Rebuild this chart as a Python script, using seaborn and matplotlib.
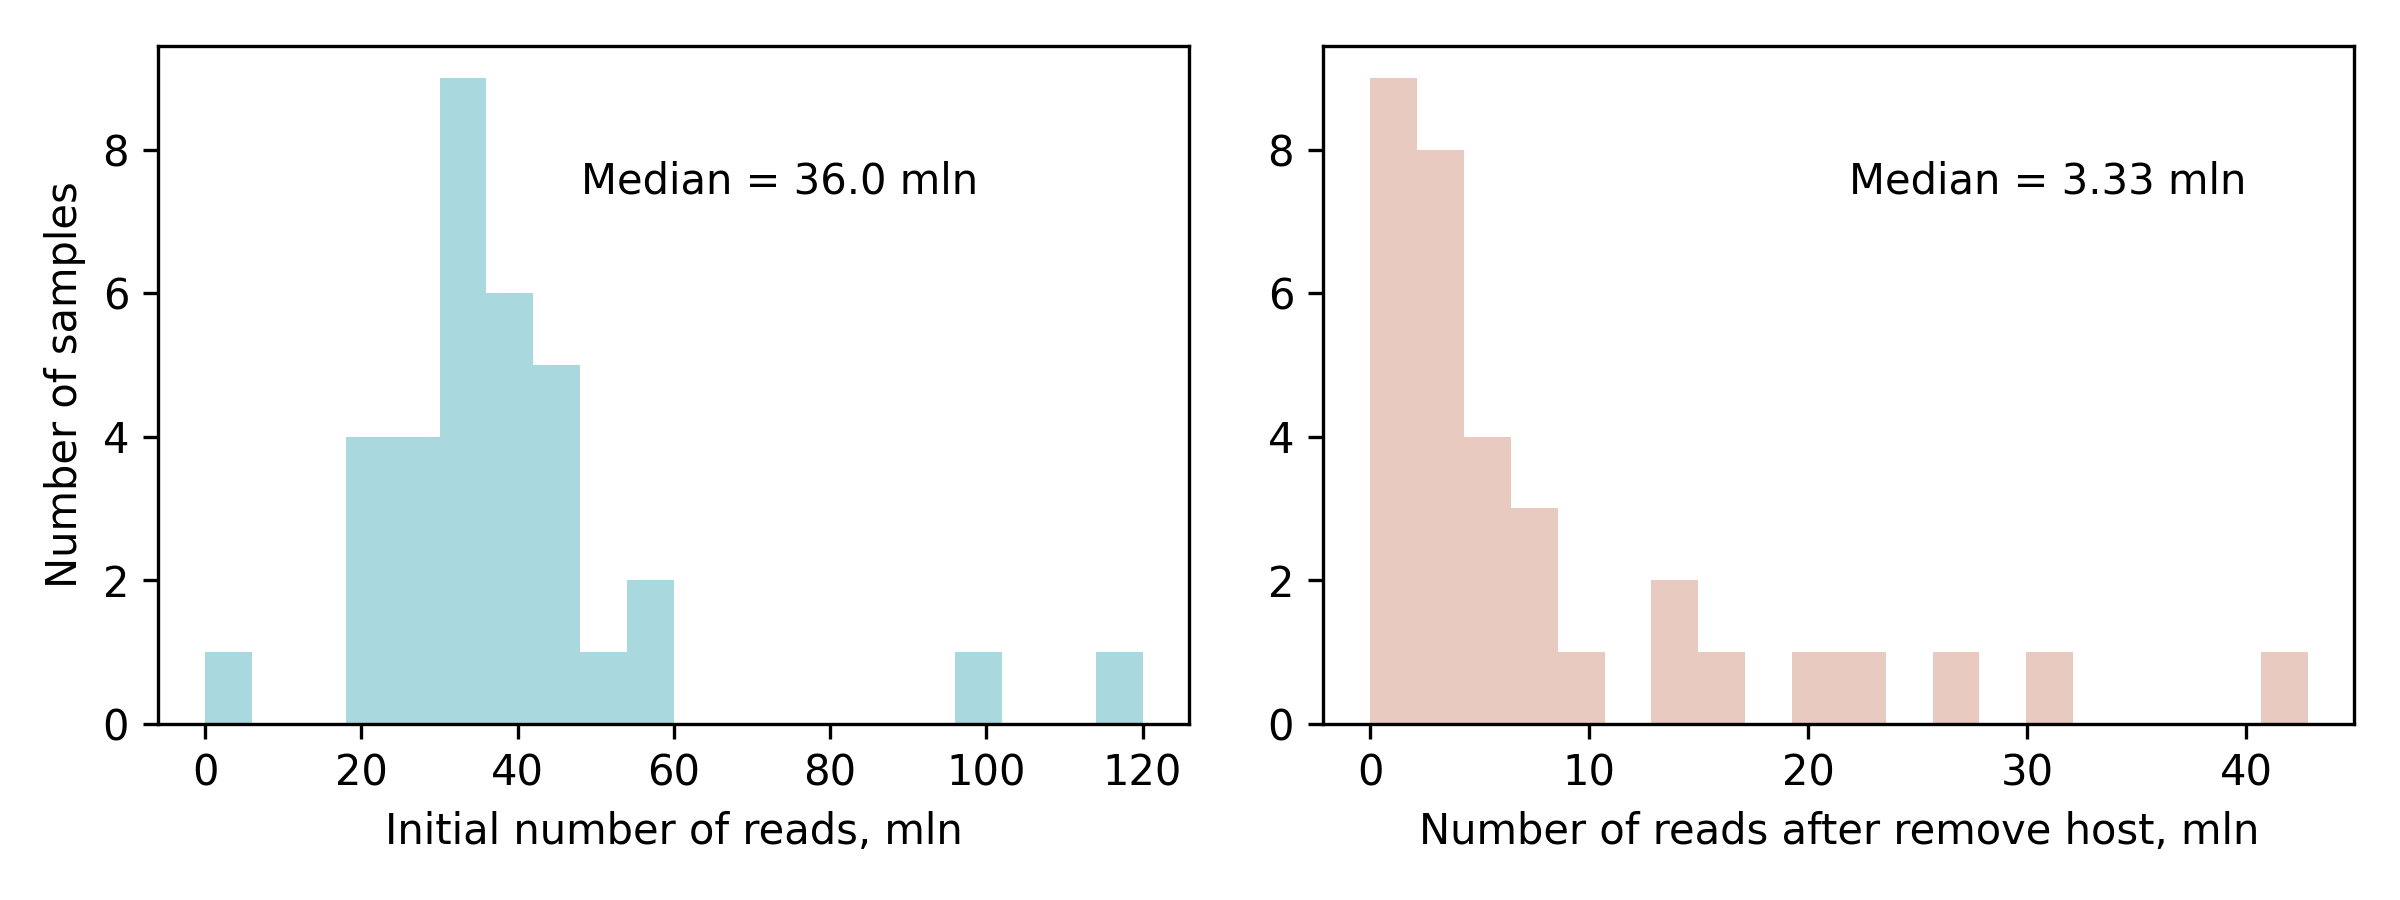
import matplotlib
matplotlib.use('Agg')
import matplotlib.pyplot as plt
import seaborn as sns
import numpy as np
import pandas as pd

sns.set_style('ticks')
plt.rcParams['font.family'] = ['DejaVu Sans']
plt.rcParams.update({'text.color': 'black', 'axes.labelcolor': 'black',
                     'xtick.color': 'black', 'ytick.color': 'black',
                     'axes.edgecolor': 'black'})

# histogram bins (20 bins each)
initial_range = (0, 120)
initial_counts = [1, 0, 0, 4, 4, 9, 6, 5, 1, 2,
                  0, 0, 0, 0, 0, 0, 1, 0, 0, 1]
initial_label = 'Median = 36.0 mln'

host_range = (0, 42.8)
host_counts = [9, 8, 4, 3, 1, 0, 2, 1, 0, 1,
               1, 0, 1, 0, 1, 0, 0, 0, 0, 1]
host_label = 'Median = 3.33 mln'

panels = [
    (initial_range, initial_counts, initial_label, '#aad8df',
     'Initial number of reads, mln', 0.41),
    (host_range, host_counts, host_label, '#e8cac0',
     'Number of reads after remove host, mln', 0.51),
]

fig, axes = plt.subplots(1, 2, figsize=(8, 3), dpi=300)

for ax, (rng, counts, label, color, xlabel, tx) in zip(axes, panels):
    edges = np.linspace(rng[0], rng[1], len(counts) + 1)
    df = pd.DataFrame({'x': (edges[:-1] + edges[1:]) / 2,
                       'n': np.asarray(counts, dtype=float)})
    sns.histplot(data=df, x='x', weights='n', bins=edges.tolist(), color=color,
                 alpha=1, linewidth=0, ax=ax)
    ax.set_xlabel(xlabel, color='black')
    ax.set_ylabel('')
    ax.text(tx, 0.80, label, transform=ax.transAxes, va='center',
            fontsize=10, color='black')
    for s in ax.spines.values():
        s.set_visible(True)
        s.set_color('black')
    ax.tick_params(colors='black')

axes[0].set_ylabel('Number of samples', color='black')

plt.subplots_adjust(left=0.066, right=0.981, bottom=0.196, top=0.949, wspace=0.13)
plt.savefig('out.png', dpi=300)
